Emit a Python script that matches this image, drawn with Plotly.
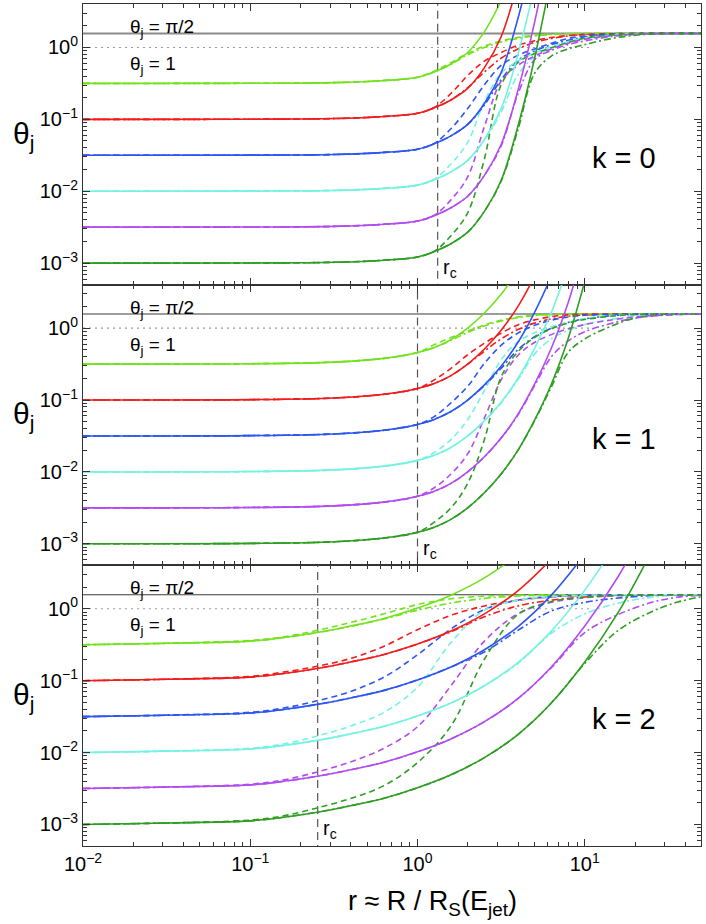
import numpy as np
import plotly.graph_objects as go
from plotly.subplots import make_subplots

# theta_j(r) curves as log10 values
# colour order: theta0 = 10^-0.5, 10^-1, 10^-1.5, 10^-2, 10^-2.5, 10^-3
COLORS = ["#72e21e", "#f21c1c", "#2d55f2", "#74f2e2", "#b24cf0", "#2e9e22"]
K_VALUES = [0, 1, 2]
R_C = [1.32, 1.0, 0.253]
THETA_HALF_PI = 1.5708
THETA_ONE = 1.0
THETA_ONE_XMAX = 11.0

N = None

# ---- k = 0 ----
LOG_R_K0 = [-2, -1, -0.5, -0.2, 0, 0.1, 0.2, 0.3, 0.4, 0.5, 0.6, 0.7, 0.8, 0.9, 1.0, 1.15, 1.3, 1.5, 1.7]
K0_SOLID = [
    [-0.5, -0.498, -0.489, -0.46, -0.415, -0.34, -0.23, -0.07, 0.22, 0.65, N, N, N, N, N, N, N, N, N],
    [-1, -0.998, -0.989, -0.96, -0.915, -0.84, -0.73, -0.57, -0.28, 0.15, 0.9, N, N, N, N, N, N, N, N],
    [-1.5, -1.498, -1.489, -1.46, -1.415, -1.34, -1.23, -1.07, -0.78, -0.35, 0.4, 1.35, N, N, N, N, N, N, N],
    [-2, -1.998, -1.989, -1.96, -1.915, -1.84, -1.73, -1.57, -1.28, -0.85, -0.1, 0.85, N, N, N, N, N, N, N],
    [-2.5, -2.498, -2.489, -2.46, -2.415, -2.34, -2.23, -2.07, -1.78, -1.35, -0.6, 0.35, 1.5, N, N, N, N, N, N],
    [-3, -2.998, -2.989, -2.96, -2.915, -2.84, -2.73, -2.57, -2.28, -1.85, -1.1, -0.15, 1.0, N, N, N, N, N, N],
]
K0_DASH = [
    [-0.5, -0.498, -0.489, -0.46, -0.415, -0.33, -0.21, -0.08, 0.02, 0.09, 0.14, 0.17, 0.185, 0.192, 0.195, 0.196, 0.196, 0.196, 0.196],
    [-1, -0.998, -0.989, -0.96, -0.915, -0.835, -0.64, -0.39, -0.19, -0.07, 0.03, 0.095, 0.14, 0.165, 0.18, 0.19, 0.195, 0.196, 0.196],
    [-1.5, -1.498, -1.489, -1.46, -1.415, -1.335, -1.13, -0.85, -0.52, -0.25, -0.11, -0.02, 0.06, 0.125, 0.16, 0.185, 0.194, 0.196, 0.196],
    [-2, -1.998, -1.989, -1.96, -1.915, -1.835, -1.62, -1.32, -0.75, -0.36, -0.19, -0.08, 0.01, 0.08, 0.13, 0.17, 0.19, 0.195, 0.196],
    [-2.5, -2.498, -2.489, -2.46, -2.415, -2.335, -2.12, -1.80, -1.10, -0.47, -0.25, -0.12, -0.02, 0.06, 0.115, 0.16, 0.185, 0.195, 0.196],
    [-3, -2.998, -2.989, -2.96, -2.915, -2.835, -2.62, -2.30, -1.55, -0.52, -0.21, -0.085, -0.005, 0.07, 0.13, 0.17, 0.188, 0.195, 0.196],
]
K0_DASHDOT = [
    [-0.5, -0.498, -0.489, -0.46, -0.415, -0.34, -0.235, -0.10, 0.0, 0.075, 0.125, 0.16, 0.18, 0.19, 0.194, 0.196, 0.196, 0.196, 0.196],
    [-1, -0.998, -0.989, -0.96, -0.915, -0.84, -0.73, -0.56, -0.34, -0.15, -0.02, 0.07, 0.125, 0.16, 0.18, 0.19, 0.195, 0.196, 0.196],
    [-1.5, -1.498, -1.489, -1.46, -1.415, -1.34, -1.23, -1.07, -0.80, -0.45, -0.18, -0.05, 0.04, 0.10, 0.145, 0.178, 0.192, 0.196, 0.196],
    [-2, -1.998, -1.989, -1.96, -1.915, -1.84, -1.73, -1.57, -1.29, -0.90, -0.38, -0.13, -0.01, 0.07, 0.12, 0.165, 0.188, 0.196, 0.196],
    [-2.5, -2.498, -2.489, -2.46, -2.415, -2.34, -2.23, -2.07, -1.78, -1.37, -0.65, -0.17, -0.04, 0.04, 0.09, 0.15, 0.18, 0.195, 0.196],
    [-3, -2.998, -2.989, -2.96, -2.915, -2.84, -2.73, -2.57, -2.28, -1.86, -1.15, -0.36, -0.12, -0.02, 0.04, 0.12, 0.17, 0.194, 0.196],
]

# ---- k = 1 ----
LOG_R_K1 = [-2, -1, -0.5, -0.2, 0, 0.1, 0.2, 0.3, 0.4, 0.5, 0.6, 0.7, 0.8, 0.9, 1.0, 1.15, 1.3, 1.5, 1.7]
K1_SOLID = [
    [-0.5, -0.495, -0.472, -0.42, -0.34, -0.27, -0.16, 0.0, 0.21, 0.47, 0.80, N, N, N, N, N, N, N, N],
    [-1, -0.995, -0.972, -0.92, -0.84, -0.77, -0.66, -0.50, -0.29, -0.03, 0.30, 0.72, N, N, N, N, N, N, N],
    [-1.5, -1.495, -1.472, -1.42, -1.34, -1.27, -1.16, -1.0, -0.79, -0.53, -0.20, 0.22, 0.72, N, N, N, N, N, N],
    [-2, -1.995, -1.972, -1.92, -1.84, -1.77, -1.66, -1.50, -1.29, -1.03, -0.70, -0.28, 0.22, 0.85, N, N, N, N, N],
    [-2.5, -2.495, -2.472, -2.42, -2.34, -2.27, -2.16, -2.0, -1.79, -1.53, -1.20, -0.78, -0.28, 0.35, 1.15, N, N, N, N],
    [-3, -2.995, -2.972, -2.92, -2.84, -2.77, -2.66, -2.50, -2.29, -2.03, -1.70, -1.28, -0.78, -0.15, 0.65, N, N, N, N],
]
K1_DASH = [
    [-0.5, -0.495, -0.472, -0.42, -0.34, -0.23, -0.13, -0.04, 0.045, 0.11, 0.155, 0.18, 0.19, 0.195, 0.196, 0.196, 0.196, 0.196, 0.196],
    [-1, -0.995, -0.972, -0.92, -0.84, -0.72, -0.56, -0.37, -0.21, -0.07, 0.045, 0.115, 0.16, 0.185, 0.193, 0.196, 0.196, 0.196, 0.196],
    [-1.5, -1.495, -1.472, -1.42, -1.34, -1.23, -1.04, -0.81, -0.49, -0.24, -0.07, 0.04, 0.11, 0.155, 0.18, 0.19, 0.195, 0.196, 0.196],
    [-2, -1.995, -1.972, -1.92, -1.84, -1.73, -1.55, -1.27, -0.87, -0.44, -0.19, -0.065, 0.02, 0.08, 0.135, 0.175, 0.19, 0.196, 0.196],
    [-2.5, -2.495, -2.472, -2.42, -2.34, -2.22, -2.03, -1.75, -1.25, -0.72, -0.38, -0.20, -0.09, -0.01, 0.05, 0.11, 0.155, 0.185, 0.196],
    [-3, -2.995, -2.972, -2.92, -2.84, -2.70, -2.50, -2.16, -1.55, -0.68, -0.33, -0.13, -0.01, 0.07, 0.12, 0.165, 0.19, 0.196, 0.196],
]
K1_DASHDOT = [
    [-0.5, -0.495, -0.472, -0.42, -0.34, -0.27, -0.17, -0.06, 0.03, 0.10, 0.145, 0.175, 0.19, 0.195, 0.196, 0.196, 0.196, 0.196, 0.196],
    [-1, -0.995, -0.972, -0.92, -0.84, -0.77, -0.66, -0.50, -0.32, -0.15, -0.02, 0.07, 0.13, 0.165, 0.183, 0.193, 0.196, 0.196, 0.196],
    [-1.5, -1.495, -1.472, -1.42, -1.34, -1.27, -1.16, -1.0, -0.80, -0.56, -0.30, -0.12, 0.0, 0.08, 0.13, 0.17, 0.19, 0.196, 0.196],
    [-2, -1.995, -1.972, -1.92, -1.84, -1.77, -1.66, -1.50, -1.29, -1.04, -0.72, -0.36, -0.15, -0.03, 0.05, 0.12, 0.165, 0.19, 0.196],
    [-2.5, -2.495, -2.472, -2.42, -2.34, -2.27, -2.16, -2.0, -1.79, -1.53, -1.21, -0.80, -0.40, -0.18, -0.05, 0.06, 0.14, 0.185, 0.196],
    [-3, -2.995, -2.972, -2.92, -2.84, -2.77, -2.66, -2.50, -2.29, -2.03, -1.70, -1.29, -0.82, -0.34, -0.15, 0.02, 0.14, 0.19, 0.196],
]

# ---- k = 2 ----
LOG_R_K2 = [-2, -1.5, -1, -0.8, -0.6, -0.4, -0.2, 0, 0.2, 0.4, 0.6, 0.8, 1.0, 1.2, 1.4, 1.55, 1.7]
K2_SOLID = [
    [-0.5, -0.48, -0.45, -0.40, -0.33, -0.24, -0.135, 0.01, 0.19, 0.43, 0.75, N, N, N, N, N, N],
    [-1, -0.98, -0.95, -0.90, -0.83, -0.74, -0.635, -0.49, -0.31, -0.07, 0.25, 0.69, N, N, N, N, N],
    [-1.5, -1.48, -1.45, -1.40, -1.33, -1.24, -1.135, -0.99, -0.81, -0.57, -0.25, 0.19, 0.76, N, N, N, N],
    [-2, -1.98, -1.95, -1.90, -1.83, -1.74, -1.635, -1.49, -1.31, -1.07, -0.75, -0.31, 0.26, 0.95, N, N, N],
    [-2.5, -2.48, -2.45, -2.40, -2.33, -2.24, -2.135, -1.99, -1.81, -1.57, -1.25, -0.81, -0.24, 0.45, 1.30, N, N],
    [-3, -2.98, -2.95, -2.90, -2.83, -2.74, -2.635, -2.49, -2.31, -2.07, -1.75, -1.31, -0.74, -0.05, 0.80, N, N],
]
K2_DASH = [
    [-0.5, -0.48, -0.44, -0.39, -0.30, -0.19, -0.07, 0.06, 0.14, 0.175, 0.19, 0.195, 0.196, 0.196, 0.196, 0.196, 0.196],
    [-1, -0.98, -0.94, -0.88, -0.80, -0.69, -0.52, -0.29, -0.09, 0.04, 0.12, 0.165, 0.188, 0.195, 0.196, 0.196, 0.196],
    [-1.5, -1.48, -1.44, -1.38, -1.28, -1.15, -0.95, -0.64, -0.28, -0.01, 0.12, 0.17, 0.188, 0.195, 0.196, 0.196, 0.196],
    [-2, -1.98, -1.94, -1.88, -1.77, -1.63, -1.44, -1.09, -0.47, -0.02, 0.12, 0.17, 0.188, 0.195, 0.196, 0.196, 0.196],
    [-2.5, -2.48, -2.44, -2.38, -2.27, -2.13, -1.94, -1.64, -1.07, -0.45, -0.07, 0.09, 0.155, 0.185, 0.194, 0.196, 0.196],
    [-3, -2.98, -2.94, -2.88, -2.77, -2.64, -2.46, -2.14, -1.63, -0.70, -0.08, 0.10, 0.16, 0.185, 0.194, 0.196, 0.196],
]
K2_DASHDOT = [
    [-0.5, -0.48, -0.45, -0.40, -0.33, -0.245, -0.14, -0.02, 0.08, 0.145, 0.178, 0.19, 0.195, 0.196, 0.196, 0.196, 0.196],
    [-1, -0.98, -0.95, -0.90, -0.83, -0.74, -0.635, -0.49, -0.32, -0.11, 0.04, 0.12, 0.165, 0.188, 0.195, 0.196, 0.196],
    [-1.5, -1.48, -1.45, -1.40, -1.33, -1.24, -1.135, -0.99, -0.81, -0.60, -0.30, -0.03, 0.09, 0.15, 0.185, 0.194, 0.196],
    [-2, -1.98, -1.95, -1.90, -1.83, -1.74, -1.635, -1.49, -1.31, -1.07, -0.76, -0.34, -0.07, 0.08, 0.16, 0.19, 0.196],
    [-2.5, -2.48, -2.45, -2.40, -2.33, -2.24, -2.135, -1.99, -1.81, -1.57, -1.25, -0.82, -0.33, -0.08, 0.09, 0.16, 0.19],
    [-3, -2.98, -2.95, -2.90, -2.83, -2.74, -2.635, -2.49, -2.31, -2.07, -1.75, -1.31, -0.76, -0.30, -0.04, 0.09, 0.17],
]

PANELS = [
    (LOG_R_K0, K0_SOLID, K0_DASH, K0_DASHDOT),
    (LOG_R_K1, K1_SOLID, K1_DASH, K1_DASHDOT),
    (LOG_R_K2, K2_SOLID, K2_DASH, K2_DASHDOT),
]

X_TICKS = [0.01, 0.1, 1, 10]
X_TICKTEXT = ["10<sup>\u22122</sup>", "10<sup>\u22121</sup>", "10<sup>0</sup>", "10<sup>1</sup>"]
Y_TICKS = [0.001, 0.01, 0.1, 1]
Y_TICKTEXT = ["10<sup>\u22123</sup>", "10<sup>\u22122</sup>", "10<sup>\u22121</sup>", "10<sup>0</sup>"]

FONT = "Liberation Sans, Arial, sans-serif"
AXIS_COLOR = "#333333"
HALF_PI_STYLE = [("#8a8a8a", 2.0), ("#3a3a3a", 1.1), ("#3a3a3a", 1.1)]


def unlog(vals):
    return [None if v is None else 10 ** v for v in vals]


fig = make_subplots(rows=3, cols=1, shared_xaxes=True, vertical_spacing=0)

for i, (lr, solid, dash, dashdot) in enumerate(PANELS):
    row = i + 1
    r = unlog(lr)

    # reference lines: theta = pi/2, theta = 1, r_c
    fig.add_trace(go.Scatter(x=[0.01, 50], y=[THETA_HALF_PI, THETA_HALF_PI], mode="lines",
                             line=dict(color=HALF_PI_STYLE[i][0], width=HALF_PI_STYLE[i][1]),
                             hoverinfo="skip", showlegend=False), row=row, col=1)
    fig.add_trace(go.Scatter(x=[0.01, THETA_ONE_XMAX], y=[THETA_ONE, THETA_ONE], mode="lines",
                             line=dict(color="#9a9a9a", width=1.1, dash="2px,4px"),
                             hoverinfo="skip", showlegend=False), row=row, col=1)
    fig.add_trace(go.Scatter(x=[R_C[i], R_C[i]], y=[4e-4, 5.0], mode="lines",
                             line=dict(color="#555555", width=1.2, dash="8px,5px"),
                             hoverinfo="skip", showlegend=False), row=row, col=1)

    for curves, style in ((dashdot, "7px,3px,2px,3px"), (dash, "6px,4px"), (solid, "solid")):
        for color, vals in zip(COLORS, curves):
            fig.add_trace(go.Scatter(x=r, y=unlog(vals), mode="lines",
                                     line=dict(color=color, width=1.6, dash=style, shape="spline"),
                                     connectgaps=False, hoverinfo="skip", showlegend=False),
                          row=row, col=1)

x_minor = [m * 10 ** e for e in range(-2, 2) for m in range(2, 10)]
y_minor = [m * 10 ** e for e in range(-4, 1) for m in range(2, 10)]

for row in (1, 2, 3):
    fig.update_xaxes(type="log", range=[-2, 1.695], showgrid=False, zeroline=False,
                     showline=True, linecolor=AXIS_COLOR, linewidth=1.1, mirror="allticks",
                     ticks="inside", ticklen=7, tickwidth=1, tickcolor=AXIS_COLOR,
                     tickvals=X_TICKS, ticktext=X_TICKTEXT, showticklabels=(row == 3),
                     tickfont=dict(family=FONT, size=20, color="black"),
                     minor=dict(ticks="inside", ticklen=4, tickwidth=0.8, tickcolor=AXIS_COLOR,
                                tickvals=x_minor, showgrid=False),
                     row=row, col=1)
    fig.update_yaxes(type="log", range=[-3.3, 0.605], showgrid=False, zeroline=False,
                     showline=True, linecolor=AXIS_COLOR, linewidth=1.1, mirror="allticks",
                     ticks="inside", ticklen=7, tickwidth=1, tickcolor=AXIS_COLOR,
                     tickvals=Y_TICKS, ticktext=Y_TICKTEXT,
                     tickfont=dict(family=FONT, size=20, color="black"),
                     minor=dict(ticks="inside", ticklen=4, tickwidth=0.8, tickcolor=AXIS_COLOR,
                                tickvals=y_minor, showgrid=False),
                     row=row, col=1)

# text labels; the three panels repeat at the same offsets
annotations = []
panel_offsets = [0.0, 0.3333, 0.6667]
for i, k in enumerate(K_VALUES):
    dy = panel_offsets[i]
    annotations += [
        dict(xref="paper", yref="paper", x=0.0728, y=0.9715 - dy, xanchor="left", yanchor="middle",
             text="\u03b8<sub>j</sub> = \u03c0/2", showarrow=False, font=dict(family=FONT, size=19)),
        dict(xref="paper", yref="paper", x=0.0728, y=0.9276 - dy, xanchor="left", yanchor="middle",
             text="\u03b8<sub>j</sub> = 1", showarrow=False, font=dict(family=FONT, size=19)),
        dict(xref="paper", yref="paper", x=0.8204, y=0.8171 - dy, xanchor="left", yanchor="middle",
             text=f"k = {k}", showarrow=False, font=dict(family=FONT, size=29)),
        dict(xref="paper", yref="paper", x=-0.097, y=0.8444 - dy, xanchor="center", yanchor="middle",
             text="\u03b8<sub>j</sub>", showarrow=False, font=dict(family=FONT, size=30)),
        dict(xref="x" if i == 0 else f"x{i + 1}", yref="paper", x=float(np.log10(R_C[i])),
             y=0.6686 - dy, xshift=3, xanchor="left", yanchor="bottom",
             text="r<sub>c</sub>", showarrow=False, font=dict(family=FONT, size=20)),
    ]

annotations.append(dict(xref="paper", yref="paper", x=0.565, y=-0.068, xanchor="center", yanchor="middle",
                        text="r \u2248 R / R<sub>S</sub>(E<sub>jet</sub>)", showarrow=False,
                        font=dict(family=FONT, size=27)))

fig.update_layout(width=706, height=924, margin=dict(l=83, r=5, t=4, b=78),
                  paper_bgcolor="white", plot_bgcolor="white",
                  font=dict(family=FONT, color="black"),
                  annotations=annotations, showlegend=False)

# the page body gets a default 8px margin; drop it so the figure fills the window
fig.write_html("out.html", config={"displayModeBar": False},
               post_script="document.body.style.margin = '0px';")
